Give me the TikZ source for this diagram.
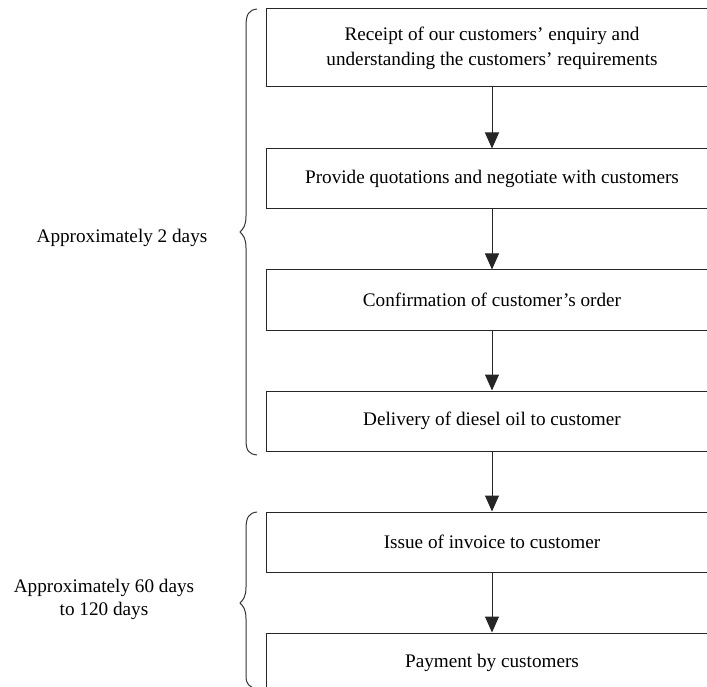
\documentclass[tikz,border=0pt]{standalone}
\usepackage{fontspec}
\setmainfont{Liberation Serif}
\usetikzlibrary{arrows.meta}
\begin{document}
\begin{tikzpicture}[x=1pt,y=-1pt,
  stepbox/.style={draw=black!85, line width=1pt, minimum width=452pt, minimum height=60pt,
    inner sep=0pt, align=center, font=\fontsize{19.2}{25}\selectfont},
  flow/.style={draw=black!85, line width=1pt, -{Triangle[width=14pt,length=16pt]}},
  curly/.style={draw=black!80, line width=1pt},
  note/.style={align=center, font=\fontsize{19.2}{23}\selectfont}]
  \useasboundingbox (0,0) rectangle (707,687);
  \clip (0,0) rectangle (707,687);
  % process steps
  \node[stepbox, minimum height=78pt] (b1) at (492,48)
    {Receipt of our customers’ enquiry and\\understanding the customers’ requirements};
  \node[stepbox] (b2) at (492,179) {Provide quotations and negotiate with customers};
  \node[stepbox] (b3) at (492,300) {Confirmation of customer’s order};
  \node[stepbox] (b4) at (492,421) {Delivery of diesel oil to customer};
  \node[stepbox] (b5) at (492,542) {Issue of invoice to customer};
  \node[stepbox] (b6) at (492,663) {Payment by customers};
  % connectors
  \draw[flow] (b1.south) -- (b2.north);
  \draw[flow] (b2.south) -- (b3.north);
  \draw[flow] (b3.south) -- (b4.north);
  \draw[flow] (b4.south) -- (b5.north);
  \draw[flow] (b5.south) -- (b6.north);
  % braces
  \draw[curly] (257,9) .. controls (249,10) and (246,14) .. (246,26) -- (246,216)
    .. controls (246,226) and (243,229) .. (240,232)
    .. controls (243,235) and (246,238) .. (246,248) -- (246,440)
    .. controls (246,451) and (249,454) .. (257,455);
  \draw[curly] (257,512) .. controls (249,513) and (246,517) .. (246,529) -- (246,587)
    .. controls (246,597) and (243,600) .. (240,603)
    .. controls (243,606) and (246,609) .. (246,619) -- (246,676)
    .. controls (246,684) and (249,687) .. (257,689);
  % durations
  \node[note] (d1) at (122,238) {Approximately 2 days};
  \node[note] (d2) at (104,599) {Approximately 60 days\\to 120 days};
\end{tikzpicture}
\end{document}
